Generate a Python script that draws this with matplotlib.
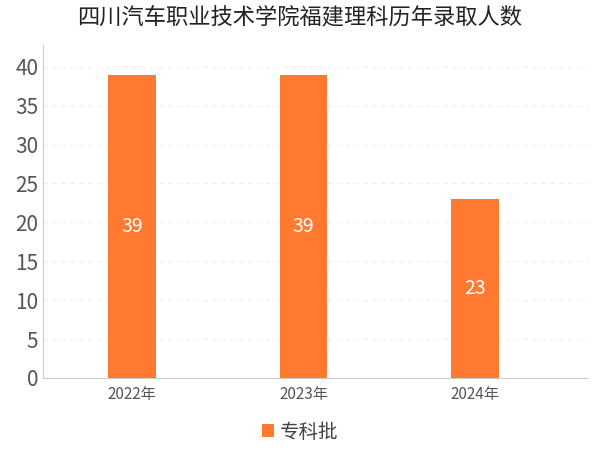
import matplotlib
matplotlib.use("Agg")
import matplotlib.pyplot as plt

plt.rcParams['font.family'] = ['Noto Sans CJK SC', 'DejaVu Sans']

years = ["2022年", "2023年", "2024年"]
values = [39, 39, 23]
series = "专科批"
title = "四川汽车职业技术学院福建理科历年录取人数"

fig = plt.figure(figsize=(6, 4.5), dpi=100)
ax = fig.add_axes([43/600, 1-378/450, 545/600, 333/450])
x = range(len(years))
bars = ax.bar(x, values, width=0.28, color="#FF7A30", label=series, zorder=3)
for xi, v in zip(x, values):
    ax.text(xi, v/2, str(v), ha="center", va="center", color="white", fontsize=14, zorder=4)
ax.set_xlim(-0.52, 2.66)
ax.set_ylim(0, 42.8)
ax.set_yticks(range(0, 41, 5))
ax.set_xticks(list(x))
ax.set_xticklabels(years, fontsize=11, color="#555555")
ax.tick_params(axis='y', labelsize=15, colors="#555555", length=0)
ax.tick_params(axis='x', length=0, pad=6)
ax.yaxis.grid(True, color="#eeeeee", linestyle=(0, (4, 4)), linewidth=0.8, zorder=0)
for s in ["top", "right"]:
    ax.spines[s].set_visible(False)
ax.spines["left"].set_color("#cccccc")
ax.spines["bottom"].set_color("#cccccc")
fig.text(0.5, 1-18/450, title, ha="center", va="center", fontsize=16, color="#222222")
fig.legend(loc="center", bbox_to_anchor=(0.5, 1-432/450), frameon=False, fontsize=14,
           handlelength=0.6, handleheight=0.6, handletextpad=0.3, labelcolor="#444444")
fig.savefig("out.png")
